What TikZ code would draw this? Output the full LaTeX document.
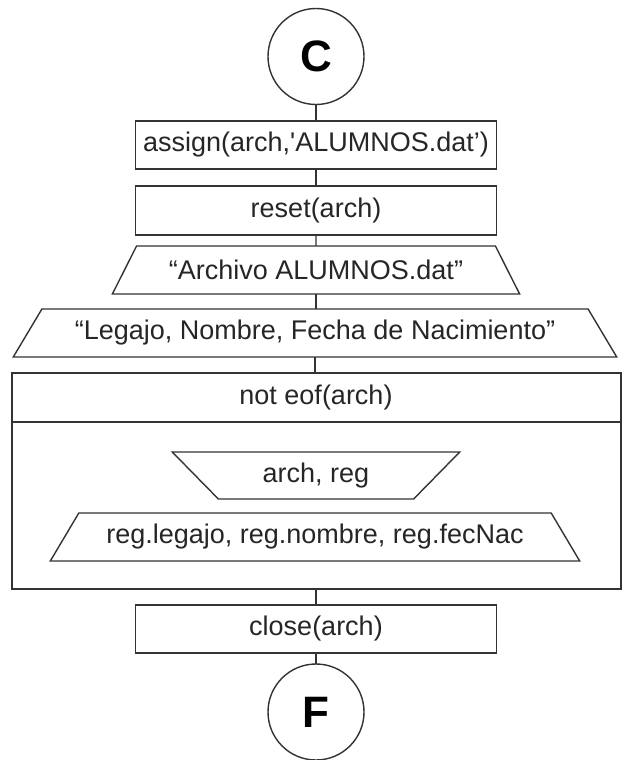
\documentclass[tikz,border=0pt]{standalone}
\usepackage{fontspec}
\setmainfont{Liberation Sans}
\usetikzlibrary{shapes.geometric}
\begin{document}
\begin{tikzpicture}[x=1pt,y=-1pt,
  base/.style={draw=black!80, line width=1.4pt, text=black!85,
    font=\fontsize{27}{31}\selectfont, inner sep=0pt, outer sep=0pt},
  procbox/.style={base, rectangle, minimum width=361pt, minimum height=48pt},
  termcircle/.style={base, circle, minimum size=96pt, text=black,
    font=\fontsize{44}{50}\selectfont\bfseries},
  iobox/.style={base, trapezium, trapezium angle=45, trapezium stretches=true,
    minimum height=48pt},
  wire/.style={draw=black!80, line width=1.4pt}]
  \useasboundingbox (0,0) rectangle (625,760);

  % start connector
  \node[termcircle] (C) at (316,56.5) {C};

  % file setup
  \node[procbox] (assign) at (316,145) {assign(arch,\textquotesingle ALUMNOS.dat’)};
  \node[procbox, minimum height=49pt] (reset) at (316,210.5) {reset(arch)};

  % headings
  \node[iobox, minimum width=408pt] (title) at (316,270) {“Archivo ALUMNOS.dat"};
  \node[iobox, minimum width=606pt] (heads) at (315,333) {“Legajo, Nombre, Fecha de Nacimiento"};

  % while loop block
  \node[base, rectangle, minimum width=609pt, minimum height=216pt] (loop) at (316.5,481) {};
  \draw[wire] (loop.west |- 0,422) -- (loop.east |- 0,422);
  \node[base, draw=none] (cond) at (316,398) {not eof(arch)};
  \node[iobox, shape border rotate=180, minimum width=288pt, minimum height=47pt]
    (readrec) at (316,475.5) {arch, reg};
  \node[iobox, minimum width=530pt] (showrec) at (315,537) {reg.legajo, reg.nombre, reg.fecNac};

  % closing
  \node[procbox] (close) at (316,629) {close(arch)};
  \node[termcircle] (F) at (316,712) {F};

  % flow lines
  \draw[wire] (C.south) -- (assign.north);
  \draw[wire] (assign.south) -- (reset.north);
  \draw[wire] (reset.south) -- (title.north);
  \draw[wire] (title.south) -- (title.south |- heads.north);
  \draw[wire] (heads.south) -- (heads.south |- loop.north);
  \draw[wire] (close.north |- loop.south) -- (close.north);
  \draw[wire] (close.south) -- (F.north);
\end{tikzpicture}
\end{document}
